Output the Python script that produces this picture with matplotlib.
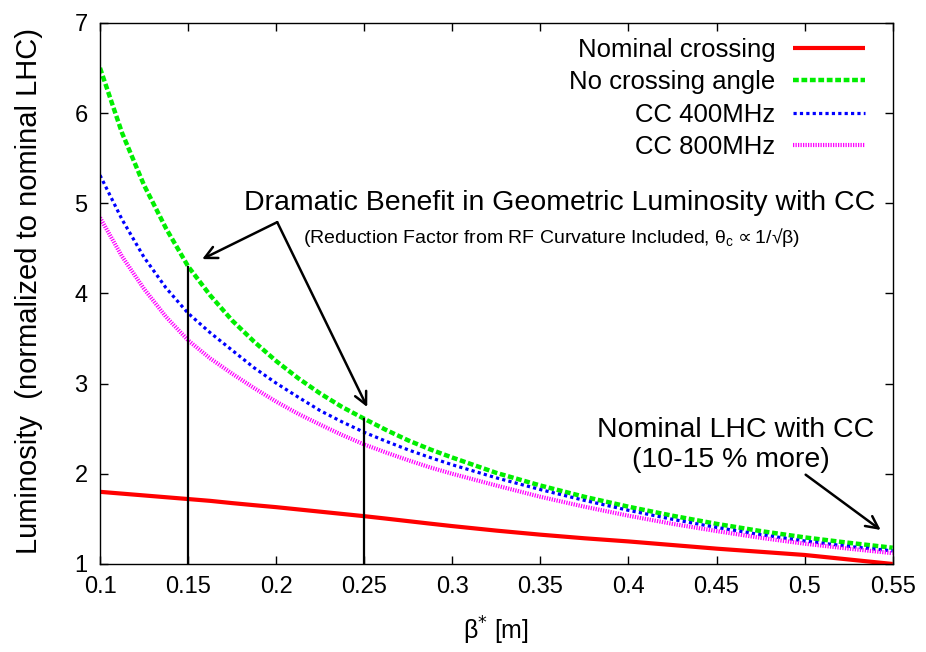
import matplotlib
matplotlib.use('Agg')
import matplotlib.pyplot as plt

plt.rcParams['font.family'] = ['Liberation Sans', 'DejaVu Sans']

# beta* values [m] and luminosity (normalized to nominal LHC)
beta = [0.100, 0.1125, 0.125, 0.1375, 0.150, 0.1625, 0.175, 0.1875, 0.200, 0.2125,
        0.225, 0.2375, 0.250, 0.2625, 0.275, 0.2875, 0.300, 0.325, 0.350, 0.375,
        0.400, 0.425, 0.450, 0.475, 0.500, 0.525, 0.550]
nominal_crossing = [1.80, 1.78, 1.76, 1.74, 1.72, 1.70, 1.675, 1.652, 1.63, 1.605,
                    1.58, 1.555, 1.53, 1.503, 1.475, 1.447, 1.42, 1.37, 1.325, 1.285,
                    1.25, 1.21, 1.17, 1.135, 1.10, 1.05, 1.00]
no_crossing = [6.50, 5.78, 5.20, 4.72, 4.30, 3.98, 3.70, 3.465, 3.25, 3.06,
               2.89, 2.74, 2.61, 2.485, 2.37, 2.27, 2.18, 2.01, 1.87, 1.745,
               1.635, 1.535, 1.445, 1.365, 1.295, 1.235, 1.18]
cc_400 = [5.31, 4.82, 4.40, 4.06, 3.78, 3.565, 3.37, 3.175, 3.005, 2.85,
          2.70, 2.575, 2.46, 2.36, 2.265, 2.18, 2.10, 1.955, 1.825, 1.705,
          1.595, 1.495, 1.405, 1.325, 1.255, 1.195, 1.145]
cc_800 = [4.84, 4.41, 4.05, 3.74, 3.48, 3.28, 3.11, 2.95, 2.80, 2.665,
          2.545, 2.43, 2.325, 2.235, 2.15, 2.07, 2.00, 1.87, 1.745, 1.635,
          1.535, 1.445, 1.365, 1.29, 1.225, 1.17, 1.12]

# vertical markers at beta* = 0.15 and 0.25 (up to the no-crossing curve)
marker_beta = [0.15, 0.25]
marker_top = [4.29, 2.61]

fig = plt.figure(figsize=(9.26, 6.52), dpi=100)
ax = fig.add_axes([0.108, 0.135, 0.856, 0.830])

ax.plot(beta, nominal_crossing, color='#ff0000', lw=3.0, label='Nominal crossing',
        solid_capstyle='butt')
ax.plot(beta, no_crossing, color='#00ee00', lw=3.2, linestyle=(0, (1.3, 0.6)),
        label='No crossing angle')
ax.plot(beta, cc_400, color='#0000ff', lw=2.3, linestyle=(0, (1.0, 1.0)),
        label='CC 400MHz')
ax.plot(beta, cc_800, color='#ff00ff', lw=3.0, linestyle=(0, (0.3, 0.3)),
        label='CC 800MHz')

for b, top in zip(marker_beta, marker_top):
    ax.plot([b, b], [1, top], color='black', lw=1.6)

# annotations
ax.text(0.361, 5.0, 'Dramatic Benefit in Geometric Luminosity with CC',
        ha='center', va='center', fontsize=20.5)
ax.text(0.3566, 4.62,
        '(Reduction Factor from RF Curvature Included, θ$_\\mathregular{c}$$\\propto$1/√β)',
        ha='center', va='center', fontsize=14)
arrow = dict(arrowstyle='->', lw=1.8, color='black', mutation_scale=22,
             shrinkA=0, shrinkB=0)
ax.annotate('', xy=(0.158, 4.38), xytext=(0.2006, 4.79), arrowprops=arrow)
ax.annotate('', xy=(0.2517, 2.74), xytext=(0.2006, 4.79), arrowprops=arrow)

ax.text(0.461, 2.49, 'Nominal LHC with CC', ha='center', va='center', fontsize=20.5)
ax.text(0.458, 2.15, '(10-15 % more)', ha='center', va='center', fontsize=20.5)
ax.annotate('', xy=(0.5432, 1.377), xytext=(0.5006, 1.99), arrowprops=arrow)

ax.set_xlim(0.1, 0.55)
ax.set_ylim(1, 7)
ax.set_xticks([0.1, 0.15, 0.2, 0.25, 0.3, 0.35, 0.4, 0.45, 0.5, 0.55])
ax.set_xticklabels(['0.1', '0.15', '0.2', '0.25', '0.3', '0.35', '0.4', '0.45', '0.5', '0.55'])
ax.set_yticks([1, 2, 3, 4, 5, 6, 7])
ax.tick_params(direction='in', top=True, right=True, length=6, width=1,
               labelsize=17, pad=9)
for s in ax.spines.values():
    s.set_linewidth(1.0)

ax.set_xlabel('β$^{*}$ [m]', fontsize=18, labelpad=12)
ax.set_ylabel('Luminosity  (normalized to nominal LHC)', fontsize=21)
ax.yaxis.set_label_coords(-0.072, 0.505)

ax.legend(loc='upper right', bbox_to_anchor=(0.985, 1.0), frameon=False,
          markerfirst=False, fontsize=18.5, handlelength=2.8, handletextpad=0.7,
          labelspacing=0.32, borderaxespad=0.2)

fig.savefig('out.png', dpi=100)
